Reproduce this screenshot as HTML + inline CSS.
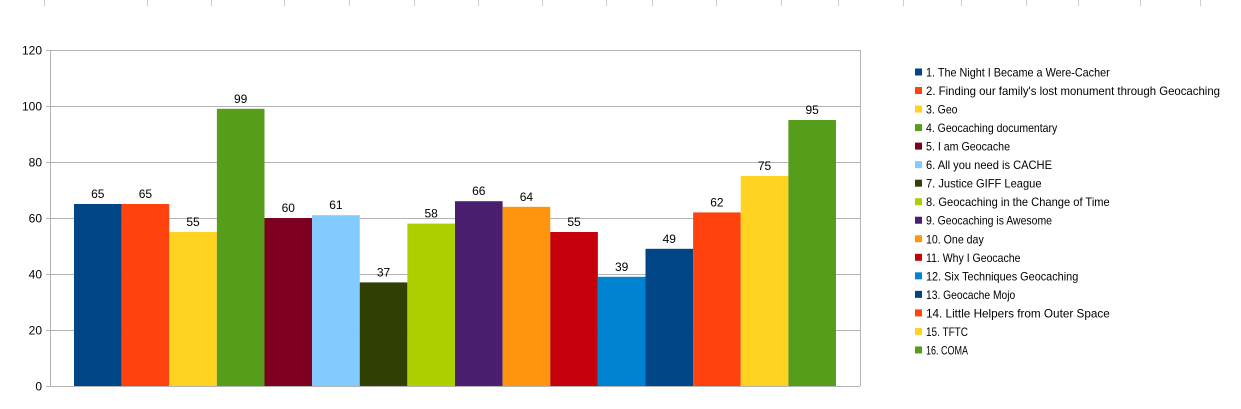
<!DOCTYPE html>
<html><head><meta charset="utf-8"><style>
html,body{margin:0;padding:0;background:#fff;}
svg{display:block;font-family:"Liberation Sans",sans-serif;}
</style></head><body>
<svg id="chart" width="1241" height="409" viewBox="0 0 1241 409" xmlns="http://www.w3.org/2000/svg">
<g id="sheet"></g>
<g id="grid"></g>
<g id="yaxis"></g>
<g id="bars"></g>
<g id="labels"></g>
<g id="legend"></g>
</svg>
<script>
const categories = ["1. The Night I Became a Were-Cacher","2. Finding our family's lost monument through Geocaching","3. Geo","4. Geocaching documentary","5. I am Geocache","6. All you need is CACHE","7. Justice GIFF League","8. Geocaching in the Change of Time","9. Geocaching is Awesome","10. One day","11. Why I Geocache","12. Six Techniques Geocaching","13. Geocache Mojo","14. Little Helpers from Outer Space","15. TFTC","16. COMA"];
const values = [65,65,55,99,60,61,37,58,66,64,55,39,49,62,75,95];
const colors = ["#004586","#ff420e","#ffd320","#579d1c","#7e0021","#83caff","#314004","#aecf00","#4b1f6f","#ff950e","#c5000b","#0084d1","#004586","#ff420e","#ffd320","#579d1c"];
const yTicks = [0,20,40,60,80,100,120];
const NS="http://www.w3.org/2000/svg";
const L=50,R=860,T=50,B=386,yMax=120;
const y=v=>B-(v/yMax)*(B-T);
const barStart=74,barW=(836-74)/values.length;
const x=i=>barStart+i*barW;
function mk(tag,attrs,parent){const e=document.createElementNS(NS,tag);for(const k in attrs)e.setAttribute(k,attrs[k]);parent.appendChild(e);return e;}
const sheet=document.getElementById('sheet');
[44,147,211,284,349,414,478,542,606,652,716,781,838,903,961,1026,1078,1140,1200].forEach(px=>{
 const l=mk('line',{x1:px+.5,x2:px+.5,y1:0,y2:6,stroke:'#ccc'},sheet);
 
 
});
const grid=document.getElementById('grid'),yaxis=document.getElementById('yaxis');
yTicks.forEach(t=>{
 const yy=Math.round(y(t))+.5;
 const g=mk('line',{x1:L-4,x2:R,y1:yy,y2:yy,stroke:'#b3b3b3','stroke-width':1},grid);
 
 
 const tx=mk('text',{x:42,y:yy+4,'text-anchor':'end','font-size':12,fill:'#000'},yaxis);
 
 
 tx.textContent=t;
});
const ax=mk('line',{x1:L+.5,x2:L+.5,y1:T,y2:B,stroke:'#b3b3b3'},yaxis);


const rb=mk('line',{x1:R+.5,x2:R+.5,y1:T,y2:B,stroke:'#b3b3b3'},yaxis);


const bars=document.getElementById('bars'),labels=document.getElementById('labels');
values.forEach((v,i)=>{
 const r=mk('rect',{x:x(i),y:y(v),width:barW,height:B-y(v),fill:colors[i]},bars);
 
 
 const t=mk('text',{x:x(i)+barW/2,y:y(v)-6,'text-anchor':'middle','font-size':12,fill:'#000'},labels);
 
 
 t.textContent=v;
});
const legend=document.getElementById('legend');
categories.forEach((c,i)=>{
 const cy=72+i*18.53;
 const g=mk('g',{},legend);
 
 
 mk('rect',{x:915,y:cy-3.5,width:7,height:7,fill:colors[i]},g);
 const t=mk('text',{x:926,y:cy+4.5,'font-size':12,fill:'#000',textLength:Math.min(302,c.length*5.25),lengthAdjust:'spacingAndGlyphs'},g);
 t.textContent=c;
});
</script>
</body></html>
